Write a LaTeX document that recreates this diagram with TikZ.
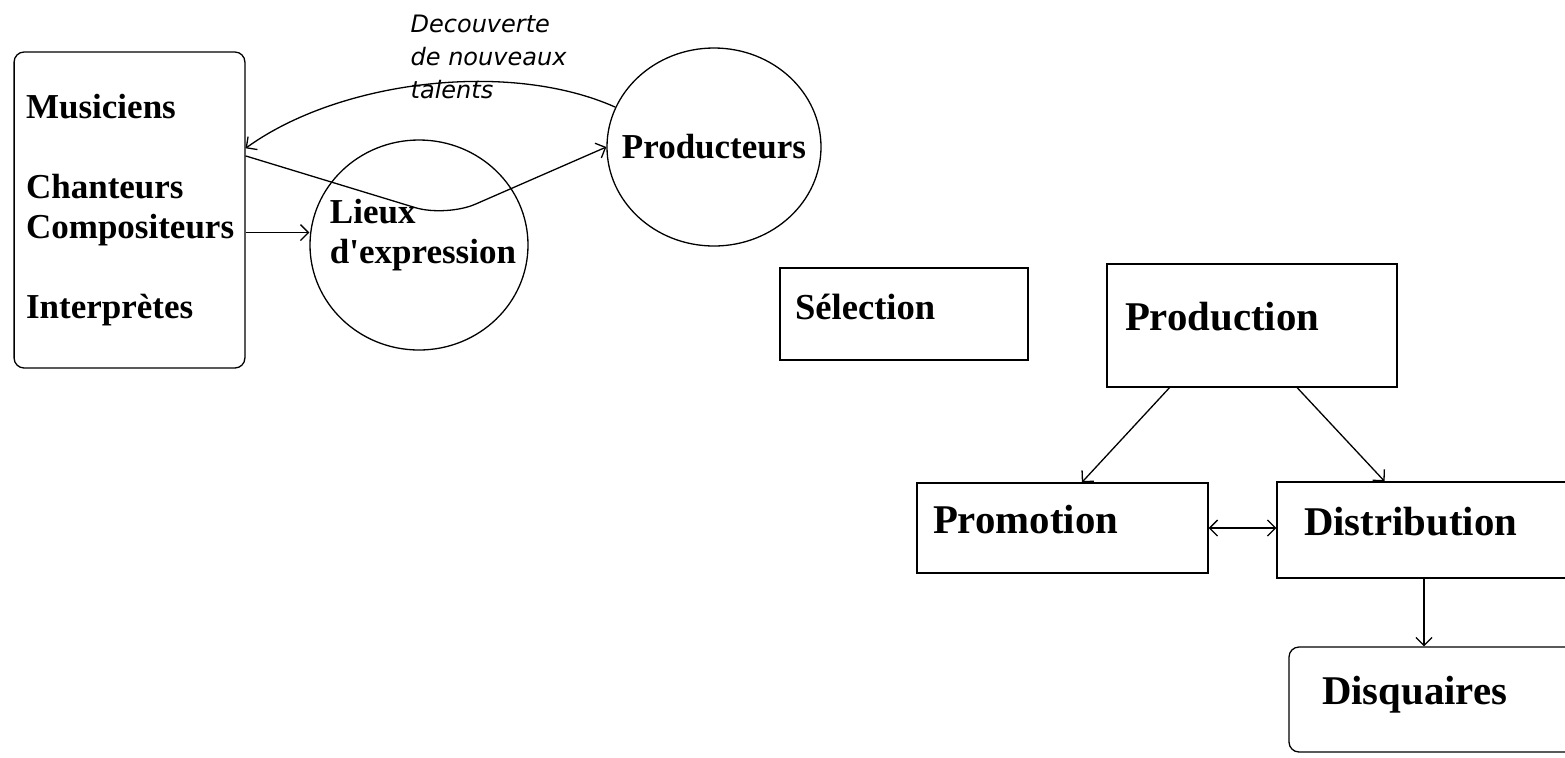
\documentclass[tikz,border=0pt]{standalone}
\usepackage{fontspec}
\setmainfont{Liberation Serif}
\newfontfamily\legendefont{DejaVu Sans}
\usetikzlibrary{shapes.geometric,arrows.meta}

\begin{document}
\begin{tikzpicture}[x=.5pt,y=-.5pt,line width=.65pt,
  >={Straight Barb[length=4pt,width=8pt]},
  grand/.style={font=\bfseries\fontsize{17.5}{20}\selectfont},
  titre/.style={font=\bfseries\fontsize{20.4}{24}\selectfont},
  boite/.style={draw,align=left,text height=12pt,text depth=7pt},
  bulle/.style={draw,ellipse,inner sep=0pt},
  legende/.style={font=\legendefont\itshape\fontsize{12}{16.5}\selectfont,
                  align=left,inner sep=0pt}]
\useasboundingbox (0,0) rectangle (1565,757);
\clip (0,0) rectangle (1565,757);
\fill[white] (0,0) rectangle (1565,757);
% artistes
\node[draw,rounded corners=5pt,grand,align=left,text width=103.4pt,
      inner xsep=6pt,minimum height=158pt]
  (artistes) at (129.5,210)
  {Musiciens\\[20pt]Chanteurs\\Compositeurs\\[20pt]Interprètes};
% lieux et producteurs
\node[bulle,minimum width=109pt,minimum height=105pt,
      label={[grand,align=left,xshift=2pt,yshift=5pt]center:Lieux\\d\textquotesingle expression}]
  (lieux) at (419,245) {};
\node[bulle,minimum width=107pt,minimum height=99pt,
      label={[grand]center:Producteurs}]
  (producteurs) at (714,147) {};
\node[legende,anchor=north west] (decouverte) at (410,14)
  {Decouverte\\de nouveaux\\talents};
% chaine de production
\node[boite,titre,font=\bfseries\fontsize{18.3}{22}\selectfont,
      text width=109pt,inner xsep=7.5pt,minimum height=46pt]
  (selection) at (904,314) {Sélection};
\node[boite,titre,text width=127pt,inner xsep=9pt,minimum height=61.5pt]
  (production) at (1252,325.5) {Production};
\node[boite,titre,text width=129.5pt,inner xsep=8pt,minimum height=45pt]
  (promotion) at (1062.5,528) {Promotion};
\node[boite,titre,text width=120pt,inner xsep=13.5pt,minimum height=48pt]
  (distribution) at (1424,530) {Distribution};
\node[boite,titre,rounded corners=5pt,text width=122pt,inner xsep=16.5pt,
      minimum height=52.5pt]
  (disquaires) at (1444,699.5) {Disquaires};
% fleches
\draw[->] (artistes.-11) -- (artistes.-11 -| lieux.west);
\draw[->] (producteurs.158) .. controls (510,60) and (340,80) .. (artistes.28);
\coordinate (creux) at (446,217);
\draw[->,rounded corners=16pt] (artistes.25) -- (creux) -- (producteurs.west);
\draw[->] (production.217) -- (promotion.67);
\draw[->] (production.-54) -- (distribution.129);
\draw[<->] (promotion.east) -- (promotion.east -| distribution.west);
\draw[->] (distribution.south) -- (distribution.south |- disquaires.north);
\end{tikzpicture}
\end{document}
